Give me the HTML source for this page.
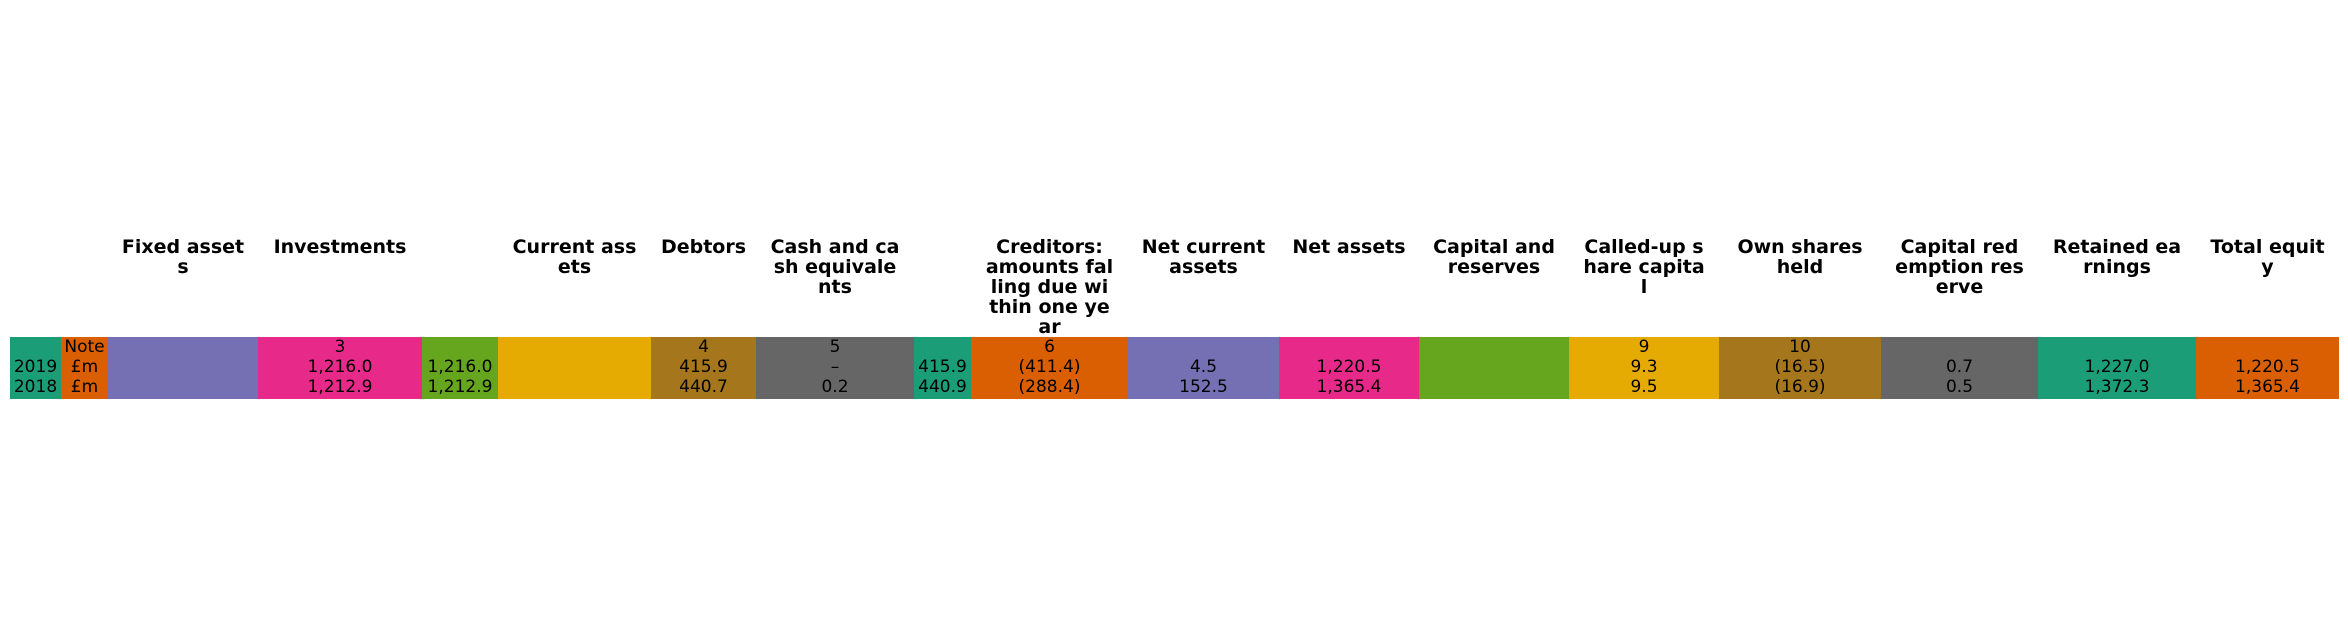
<!DOCTYPE html>
<html><head><meta charset="utf-8"><style>
html,body{margin:0;padding:0;background:#fff;}
#root{position:relative;width:2348px;height:636px;overflow:hidden;font-family:"DejaVu Sans","Liberation Sans",sans-serif;}
.cell{position:absolute;top:337px;height:62px;}
.txt{position:absolute;font-size:17px;color:#000;text-align:center;white-space:nowrap;line-height:20px;transform:translateX(-50%);}
.hdr{position:absolute;font-size:19px;font-weight:bold;color:#000;text-align:center;line-height:20px;top:237px;transform:translateX(-50%);white-space:pre;}
</style></head><body>
<div id="root"></div>
<script>
const edges=[10,61,108,258,422,498,651,756,914,971,1128,1279,1419,1569,1719,1881,2038,2196,2339];
const colors=["#1b9e77","#d95f02","#7570b3","#e7298a","#66a61e","#e6ab02","#a6761d","#666666"];
const headers=["","","Fixed asset\ns","Investments","","Current ass\nets","Debtors","Cash and ca\nsh equivale\nnts","","Creditors:\namounts fal\nling due wi\nthin one ye\nar","Net current\nassets","Net assets","Capital and\nreserves","Called-up s\nhare capita\nl","Own shares\nheld","Capital red\nemption res\nerve","Retained ea\nrnings","Total equit\ny"];
const noteRow=["","Note","","3","","","4","5","","6","","","","9","10","","",""];
const row2019=["2019","£m","","1,216.0","1,216.0","","415.9","–","415.9","(411.4)","4.5","1,220.5","","9.3","(16.5)","0.7","1,227.0","1,220.5"];
const row2018=["2018","£m","","1,212.9","1,212.9","","440.7","0.2","440.9","(288.4)","152.5","1,365.4","","9.5","(16.9)","0.5","1,372.3","1,365.4"];
const root=document.getElementById('root');
const rowsY=[337,357,377];
const rows=[noteRow,row2019,row2018];
for(let i=0;i<edges.length-1;i++){
  const c=document.createElement('div');
  c.className='cell';
  c.style.left=edges[i]+'px';
  c.style.width=(edges[i+1]-edges[i])+'px';
  c.style.background=colors[i%colors.length];
  
  
  root.appendChild(c);
  const cx=(edges[i]+edges[i+1])/2;
  if(headers[i]){
    const h=document.createElement('div');
    h.className='hdr';
    h.style.left=cx+'px';
    h.textContent=headers[i];
    
    
    root.appendChild(h);
  }
  rows.forEach((r,k)=>{
    if(!r[i])return;
    const t=document.createElement('div');
    t.className='txt';
    t.style.left=cx+'px';
    t.style.top=rowsY[k]+'px';
    t.textContent=r[i];
    
    
    root.appendChild(t);
  });
}
</script>
</body></html>
